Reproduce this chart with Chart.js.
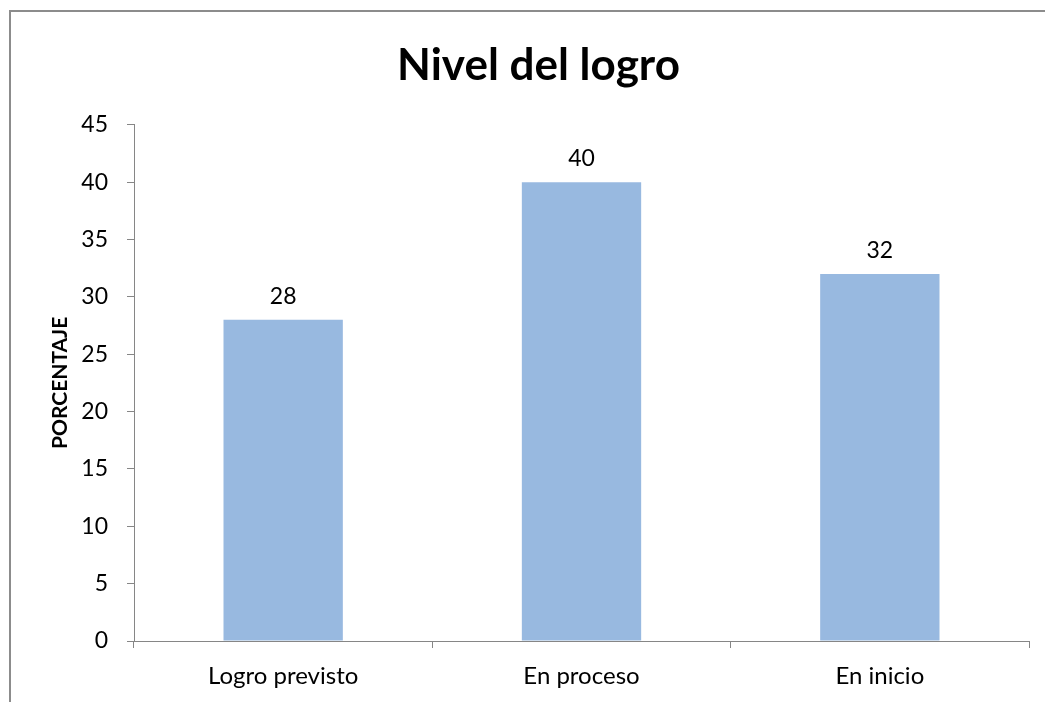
<!DOCTYPE html>
<html>
<head>
<meta charset="utf-8">
<script src="https://cdn.jsdelivr.net/npm/chart.js@4"></script>
<style>
  html, body { margin: 0; padding: 0; background: #fff; overflow: hidden; }
  #marco { position: absolute; left: 9px; top: 10px; width: 1200px; height: 900px;
           border-left: 2px solid #8c8c8c; border-top: 2px solid #8c8c8c; }
  #grafico { position: absolute; left: 0; top: 0; }
</style>
</head>
<body>
<div id="marco"></div>
<canvas id="grafico" width="1045" height="702"></canvas>
<script>
const niveles = ['Logro previsto', 'En proceso', 'En inicio'];
const porcentajes = [28, 40, 32];
const ticksY = [0, 5, 10, 15, 20, 25, 30, 35, 40, 45];

const fuente = "Lato, 'Open Sans', sans-serif";
const grisEje = '#868686';

// Etiqueta con el valor encima de cada barra
const etiquetasValor = {
    id: 'etiquetasValor',
    afterDatasetsDraw(chart) {
        const ctx = chart.ctx;
        const meta = chart.getDatasetMeta(0);
        ctx.save();
        ctx.font = '23px ' + fuente;
        ctx.fillStyle = '#000';
        ctx.textAlign = 'center';
        ctx.textBaseline = 'bottom';
        meta.data.forEach((barra, i) => {
            ctx.fillText(porcentajes[i], barra.x, barra.y - 12);
        });
        ctx.restore();
    }
};

const ctx = document.getElementById('grafico');
new Chart(ctx, {
    type: 'bar',
    data: {
        labels: niveles,
        datasets: [{
            data: porcentajes,
            backgroundColor: '#98b9e0',
            borderWidth: 0,
            barPercentage: 0.8,
            categoryPercentage: 0.5
        }]
    },
    options: {
        responsive: false,
        animation: false,
        layout: { padding: { left: 48, right: 16, top: 0, bottom: 0 } },
        plugins: {
            legend: { display: false },
            tooltip: { enabled: false },
            title: {
                display: true,
                text: 'Nivel del logro',
                color: '#000',
                font: { family: fuente, size: 44, weight: 'bold' },
                padding: { top: 39, bottom: 33 }
            }
        },
        scales: {
            y: {
                min: 0,
                max: 45,
                afterBuildTicks(scale) {
                    scale.ticks = ticksY.map(v => ({ value: v }));
                },
                afterFit(scale) { scale.width = 86; },
                border: { color: grisEje, width: 1 },
                grid: { drawOnChartArea: false, drawTicks: true, tickLength: 7, color: grisEje },
                ticks: { color: '#000', padding: 19, font: { family: fuente, size: 23 } },
                title: {
                    display: true,
                    text: 'PORCENTAJE',
                    color: '#000',
                    font: { family: fuente, size: 21, weight: 'bold' },
                    padding: 0
                }
            },
            x: {
                afterFit(scale) { scale.height = 61; },
                border: { color: grisEje, width: 1 },
                grid: { drawOnChartArea: false, drawTicks: true, tickLength: 7, color: grisEje, offset: true },
                ticks: { color: '#000', padding: 14, font: { family: fuente, size: 24 } }
            }
        }
    },
    plugins: [etiquetasValor]
});
</script>
</body>
</html>
